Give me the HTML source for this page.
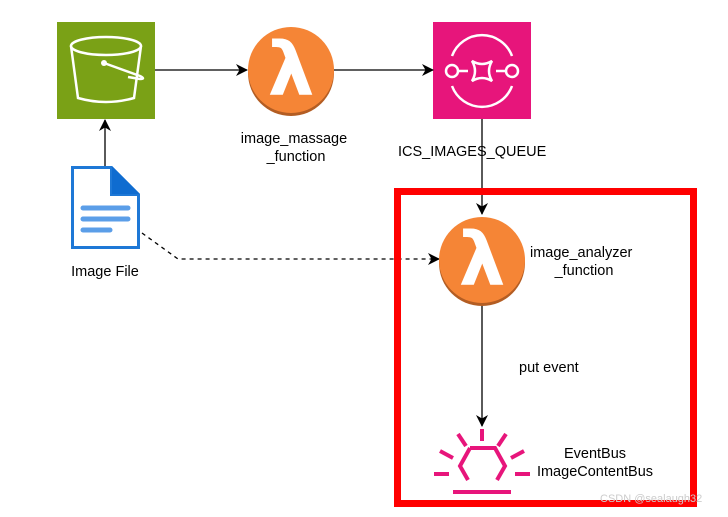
<!DOCTYPE html>
<html><head><style>
body{margin:0;width:728px;height:512px;background:#fff;overflow:hidden;font-family:"Liberation Sans",sans-serif}
svg text{font-family:"Liberation Sans",sans-serif;font-size:14.5px;fill:#000}
</style></head><body>
<svg width="728" height="512" xmlns="http://www.w3.org/2000/svg">
<defs>
<marker id="a" markerWidth="12" markerHeight="12" refX="11" refY="6" orient="auto" markerUnits="userSpaceOnUse">
<path d="M0,0 L12,6 L0,12 L3.5,6 Z" fill="#000"/></marker>
</defs>
<rect x="57" y="22" width="98" height="97" fill="#7aa116"/>
<g fill="none" stroke="#fff" stroke-width="2.5">
<ellipse cx="106" cy="46" rx="35" ry="9"/>
<path d="M71,46 L78,98 Q106,106 134,98 L141,46"/>
<path d="M104,63 L140,76 Q146,79 140,79 L128,77"/>
</g>
<circle cx="104" cy="63" r="3" fill="#fff"/>
<circle cx="291" cy="73" r="43" fill="#b35d23"/>
<circle cx="291" cy="70" r="43" fill="#f58536"/>
<text x="291" y="95" text-anchor="middle" style="font-size:74px;font-weight:bold;fill:#fff;font-family:'DejaVu Sans',sans-serif">λ</text>
<rect x="433" y="22" width="98" height="97" fill="#e7157b"/>
<g fill="none" stroke="#fff" stroke-width="2.5">
<path d="M452,56 A32,32 0 0 1 512,56"/><path d="M452,86 A32,32 0 0 0 512,86"/>
<circle cx="452" cy="71" r="6"/><circle cx="512" cy="71" r="6"/>
<path d="M472,61 Q482,67 492,61 Q486,71 492,81 Q482,75 472,81 Q478,71 472,61Z"/>
<path d="M458,71 H468 M496,71 H506"/>
</g>
<line x1="155" y1="70" x2="247" y2="70" stroke="#000" stroke-width="1.3" marker-end="url(#a)"/>
<line x1="334" y1="70" x2="433" y2="70" stroke="#000" stroke-width="1.3" marker-end="url(#a)"/>
<line x1="105" y1="166" x2="105" y2="120" stroke="#000" stroke-width="1.3" marker-end="url(#a)"/>
<line x1="482" y1="119" x2="482" y2="214" stroke="#000" stroke-width="1.3" marker-end="url(#a)"/>
<path d="M142,233 L178,259 L439,259" fill="none" stroke="#000" stroke-width="1.3" stroke-dasharray="4,4" marker-end="url(#a)"/>
<line x1="482" y1="305" x2="482" y2="426" stroke="#000" stroke-width="1.3" marker-end="url(#a)"/>
<rect x="397.5" y="191.5" width="296" height="312" fill="none" stroke="#f00" stroke-width="7"/>
<path d="M71,166 H112 L140,194 V249 H71 Z" fill="#1e78d6"/>
<path d="M74,169 H110 V196 H137 V246 H74 Z" fill="#fff"/>
<path d="M112,166 L140,194 H112 Z" fill="#0f6cd0"/>
<g stroke="#5b9ee8" stroke-width="5" stroke-linecap="round">
<line x1="83" y1="208" x2="128" y2="208"/><line x1="83" y1="219" x2="128" y2="219"/><line x1="83" y1="230" x2="110" y2="230"/></g>
<circle cx="482" cy="263" r="43" fill="#b35d23"/>
<circle cx="482" cy="260" r="43" fill="#f58536"/>
<text x="482" y="285" text-anchor="middle" style="font-size:74px;font-weight:bold;fill:#fff;font-family:'DejaVu Sans',sans-serif">λ</text>
<g stroke="#e7157b" stroke-width="4" fill="none">
<path d="M470,448 H495 L505,466 L497,480 M470,448 L460,466 L468,480"/>
<line x1="453" y1="492" x2="511" y2="492"/>
<line x1="482" y1="429" x2="482" y2="441"/>
<line x1="458" y1="434" x2="466" y2="446"/><line x1="506" y1="434" x2="498" y2="446"/>
<line x1="440" y1="451" x2="453" y2="458"/><line x1="524" y1="451" x2="511" y2="458"/>
<line x1="434" y1="474" x2="449" y2="474"/><line x1="515" y1="474" x2="530" y2="474"/>
</g>
<text x="294" y="143" text-anchor="middle">image_massage</text>
<text x="296" y="161" text-anchor="middle">_function</text>
<text x="398" y="156">ICS_IMAGES_QUEUE</text>
<text x="105" y="276" text-anchor="middle">Image File</text>
<text x="530" y="257">image_analyzer</text>
<text x="584" y="275" text-anchor="middle">_function</text>
<text x="519" y="372">put event</text>
<text x="595" y="458" text-anchor="middle">EventBus</text>
<text x="595" y="476" text-anchor="middle">ImageContentBus</text>
<text x="600" y="502" style="font-size:11px;fill:#ccc">CSDN @sealaugh32</text>
</svg>
</body></html>
